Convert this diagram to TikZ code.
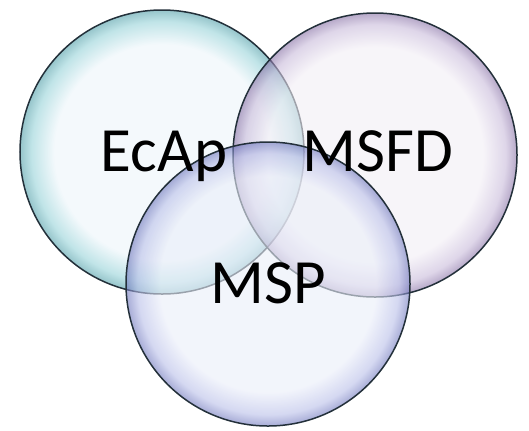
\documentclass[tikz,border=0pt]{standalone}
\usepackage{fontspec}
\setmainfont{Carlito}

% цвета пузырей
\definecolor{ecapin}{RGB}{236,245,250}
\definecolor{ecaprim}{RGB}{150,210,216}
\definecolor{ecapedge}{RGB}{80,158,168}
\definecolor{msfdin}{RGB}{242,238,245}
\definecolor{msfdrim}{RGB}{200,186,218}
\definecolor{msfdedge}{RGB}{135,112,165}
\definecolor{mspin}{RGB}{234,238,249}
\definecolor{msprim}{RGB}{184,190,232}
\definecolor{mspedge}{RGB}{110,118,188}
\definecolor{bubbleline}{RGB}{35,48,58}

\pgfdeclareradialshading{ecapshade}{\pgfpoint{0bp}{0bp}}{color(0bp)=(ecapin); color(19bp)=(ecapin); color(23bp)=(ecaprim); color(25bp)=(ecapedge); color(50bp)=(ecapedge)}
\pgfdeclareradialshading{msfdshade}{\pgfpoint{0bp}{0bp}}{color(0bp)=(msfdin); color(19bp)=(msfdin); color(23bp)=(msfdrim); color(25bp)=(msfdedge); color(50bp)=(msfdedge)}
\pgfdeclareradialshading{mspshade}{\pgfpoint{0bp}{0bp}}{color(0bp)=(mspin); color(19bp)=(mspin); color(23bp)=(msprim); color(25bp)=(mspedge); color(50bp)=(mspedge)}

\begin{document}
\begin{tikzpicture}[x=1bp,y=-1bp,
  bubble/.style={circle, minimum size=284bp, inner sep=0pt, fill opacity=0.6,
    draw=bubbleline, line width=1.5bp},
  lbl/.style={anchor=base, inner sep=0pt, font=\fontsize{63bp}{70bp}\selectfont}]

\useasboundingbox (0,0) rectangle (529,430);

% круги
\node[bubble, shading=ecapshade] (ecap) at (162,152) {};
\node[bubble, shading=msfdshade] (msfd) at (375,155) {};
\node[bubble, shading=mspshade] (msp) at (268,284) {};

% подписи
\node[lbl, xshift=2bp, yshift=-19bp] (ecaplbl) at (ecap) {EcAp};
\node[lbl, xshift=3bp, yshift=-16bp] (msfdlbl) at (msfd) {MSFD};
\node[lbl, yshift=-19bp] (msplbl) at (msp) {MSP};

\end{tikzpicture}
\end{document}
